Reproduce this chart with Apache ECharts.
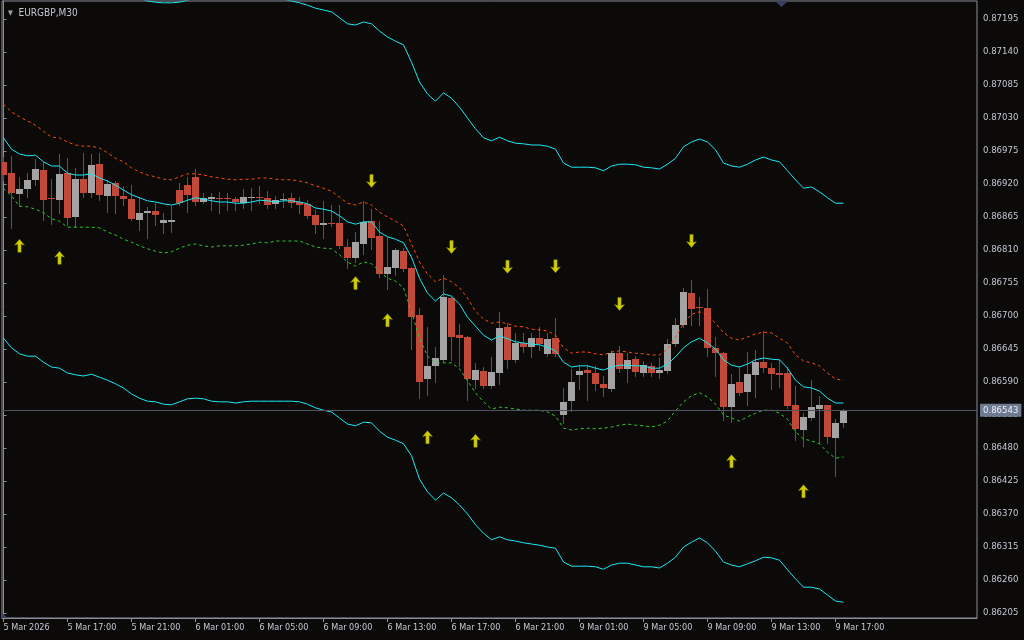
<!DOCTYPE html>
<html><head><meta charset="utf-8">
<script src="https://cdn.jsdelivr.net/npm/echarts@6/dist/echarts.min.js"></script>
<style>html,body{margin:0;padding:0;background:#0c0a08;}#c{width:1024px;height:640px;}</style>
</head><body><div id="c"></div>
<script>
const symbolName = 'EURGBP,M30';
const timeLabels = ['5 Mar 2026','5 Mar 17:00','5 Mar 21:00','6 Mar 01:00','6 Mar 05:00','6 Mar 09:00','6 Mar 13:00','6 Mar 17:00','6 Mar 21:00','9 Mar 01:00','9 Mar 05:00','9 Mar 09:00','9 Mar 13:00','9 Mar 17:00'];
const labelBars = [0,8,16,24,32,40,48,56,64,72,80,88,96,104];
const priceTicks = [0.87195,0.87140,0.87085,0.87030,0.86975,0.86920,0.86865,0.86810,0.86755,0.86700,0.86645,0.86590,0.86535,0.86480,0.86425,0.86370,0.86315,0.86260,0.86205];
const lastPrice = 0.86543;

const open = [0.86957,0.86938,0.86903,0.86912,0.86927,0.86943,0.86897,0.86893,0.86938,0.86865,
0.86928,0.86905,0.86953,0.86900,0.86922,0.86900,0.86895,0.86860,0.86872,0.86875,
0.86855,0.86857,0.86910,0.86918,0.86932,0.86890,0.86895,0.86897,0.86897,0.86895,
0.86888,0.86897,0.86898,0.86897,0.86887,0.86893,0.86897,0.86890,0.86887,0.86868,
0.86852,0.86855,0.86855,0.86815,0.86797,0.86820,0.86858,0.86833,0.86770,0.86780,
0.86808,0.86780,0.86702,0.86595,0.86617,0.86627,0.86730,0.86668,0.86665,0.86593,
0.86608,0.86583,0.86605,0.86682,0.86627,0.86655,0.86648,0.86663,0.86637,0.86663,
0.86535,0.86558,0.86602,0.86610,0.86605,0.86587,0.86578,0.86638,0.86612,0.86628,
0.86605,0.86617,0.86605,0.86608,0.86653,0.86685,0.86738,0.86715,0.86713,0.86647,
0.86638,0.86548,0.86590,0.86573,0.86602,0.86623,0.86613,0.86605,0.86605,0.86552,
0.86510,0.86530,0.86545,0.86552,0.86497,0.86522];
const close = [0.86935,0.86905,0.86912,0.86927,0.86945,0.86893,0.86895,0.86937,0.86863,0.86928,
0.86905,0.86952,0.86902,0.86920,0.86900,0.86895,0.86862,0.86872,0.86875,0.86868,
0.86860,0.86860,0.86888,0.86902,0.86890,0.86897,0.86898,0.86895,0.86895,0.86890,
0.86898,0.86898,0.86897,0.86885,0.86893,0.86895,0.86888,0.86885,0.86867,0.86852,
0.86855,0.86853,0.86817,0.86797,0.86823,0.86857,0.86830,0.86770,0.86782,0.86810,
0.86778,0.86698,0.86590,0.86617,0.86630,0.86732,0.86665,0.86663,0.86595,0.86610,
0.86583,0.86607,0.86680,0.86627,0.86655,0.86648,0.86663,0.86653,0.86662,0.86637,
0.86557,0.86590,0.86608,0.86605,0.86587,0.86580,0.86638,0.86612,0.86627,0.86607,
0.86618,0.86605,0.86610,0.86653,0.86685,0.86740,0.86712,0.86713,0.86647,0.86638,
0.86548,0.86587,0.86572,0.86603,0.86623,0.86613,0.86603,0.86602,0.86550,0.86512,
0.86532,0.86548,0.86552,0.86498,0.86522,0.86543];
const high = [0.86965,0.86967,0.86932,0.86938,0.86962,0.86957,0.86928,0.86970,0.86963,0.86947,
0.86972,0.86970,0.86972,0.86927,0.86925,0.86917,0.86918,0.86898,0.86882,0.86888,
0.86872,0.86883,0.86922,0.86932,0.86945,0.86905,0.86905,0.86907,0.86905,0.86898,
0.86912,0.86913,0.86917,0.86908,0.86900,0.86905,0.86905,0.86898,0.86893,0.86877,
0.86892,0.86885,0.86885,0.86828,0.86840,0.86892,0.86878,0.86858,0.86832,0.86813,
0.86813,0.86782,0.86713,0.86682,0.86648,0.86768,0.86732,0.86687,0.86667,0.86622,
0.86615,0.86632,0.86707,0.86688,0.86672,0.86672,0.86672,0.86682,0.86672,0.86697,
0.86580,0.86612,0.86618,0.86618,0.86617,0.86600,0.86642,0.86650,0.86638,0.86633,
0.86625,0.86622,0.86630,0.86662,0.86697,0.86747,0.86760,0.86732,0.86745,0.86665,
0.86640,0.86603,0.86617,0.86640,0.86643,0.86675,0.86622,0.86628,0.86615,0.86583,
0.86538,0.86593,0.86567,0.86552,0.86528,0.86545];
const low = [0.86927,0.86847,0.86883,0.86898,0.86918,0.86860,0.86853,0.86872,0.86852,0.86848,
0.86898,0.86898,0.86893,0.86873,0.86872,0.86885,0.86860,0.86843,0.86830,0.86852,
0.86838,0.86840,0.86885,0.86873,0.86885,0.86888,0.86877,0.86872,0.86877,0.86877,
0.86880,0.86877,0.86888,0.86880,0.86880,0.86882,0.86882,0.86872,0.86863,0.86838,
0.86830,0.86850,0.86813,0.86780,0.86790,0.86803,0.86812,0.86765,0.86745,0.86768,
0.86775,0.86645,0.86563,0.86568,0.86590,0.86625,0.86627,0.86617,0.86560,0.86580,
0.86580,0.86580,0.86587,0.86613,0.86623,0.86640,0.86632,0.86643,0.86633,0.86633,
0.86522,0.86542,0.86578,0.86560,0.86577,0.86567,0.86575,0.86607,0.86590,0.86600,
0.86600,0.86600,0.86597,0.86605,0.86650,0.86682,0.86685,0.86685,0.86633,0.86600,
0.86527,0.86523,0.86568,0.86552,0.86565,0.86607,0.86578,0.86582,0.86547,0.86493,
0.86483,0.86527,0.86488,0.86488,0.86433,0.86515];

const midLine = [0.86997,0.86978,0.86970,0.86967,0.86968,0.86957,0.86950,0.86950,0.86938,0.86935,
0.86935,0.86937,0.86930,0.86925,0.86918,0.86910,0.86902,0.86897,0.86892,0.86890,
0.86887,0.86885,0.86888,0.86893,0.86897,0.86895,0.86892,0.86890,0.86890,0.86888,
0.86888,0.86890,0.86893,0.86892,0.86890,0.86892,0.86892,0.86890,0.86887,0.86880,
0.86878,0.86875,0.86867,0.86857,0.86853,0.86857,0.86857,0.86840,0.86832,0.86828,
0.86822,0.86798,0.86763,0.86738,0.86725,0.86737,0.86733,0.86720,0.86698,0.86683,
0.86668,0.86660,0.86667,0.86662,0.86657,0.86655,0.86653,0.86652,0.86648,0.86642,
0.86623,0.86615,0.86617,0.86617,0.86613,0.86610,0.86615,0.86618,0.86618,0.86617,
0.86617,0.86613,0.86613,0.86620,0.86632,0.86647,0.86657,0.86663,0.86655,0.86645,
0.86627,0.86618,0.86615,0.86620,0.86627,0.86630,0.86628,0.86627,0.86613,0.86593,
0.86582,0.86580,0.86575,0.86563,0.86555,0.86555];
const upperDash = [0.87053,0.87040,0.87032,0.87025,0.87018,0.87008,0.86998,0.86997,0.86990,0.86985,
0.86983,0.86983,0.86980,0.86972,0.86963,0.86957,0.86947,0.86940,0.86935,0.86932,
0.86928,0.86927,0.86932,0.86937,0.86937,0.86935,0.86932,0.86930,0.86928,0.86927,
0.86928,0.86928,0.86930,0.86930,0.86928,0.86927,0.86927,0.86925,0.86922,0.86917,
0.86913,0.86908,0.86898,0.86888,0.86885,0.86890,0.86885,0.86873,0.86865,0.86858,
0.86850,0.86820,0.86790,0.86770,0.86757,0.86763,0.86757,0.86747,0.86730,0.86708,
0.86695,0.86688,0.86690,0.86687,0.86683,0.86682,0.86678,0.86677,0.86675,0.86668,
0.86647,0.86638,0.86640,0.86640,0.86637,0.86635,0.86640,0.86642,0.86640,0.86638,
0.86637,0.86635,0.86635,0.86645,0.86665,0.86687,0.86703,0.86707,0.86702,0.86688,
0.86672,0.86663,0.86660,0.86665,0.86670,0.86673,0.86672,0.86663,0.86655,0.86635,
0.86625,0.86622,0.86617,0.86605,0.86595,0.86593];
const lowerDash = [0.86913,0.86900,0.86883,0.86882,0.86878,0.86872,0.86862,0.86858,0.86848,0.86848,
0.86848,0.86848,0.86847,0.86840,0.86835,0.86828,0.86823,0.86817,0.86812,0.86808,
0.86805,0.86807,0.86813,0.86818,0.86820,0.86817,0.86815,0.86817,0.86817,0.86817,
0.86818,0.86820,0.86823,0.86822,0.86825,0.86825,0.86825,0.86825,0.86820,0.86815,
0.86813,0.86812,0.86802,0.86790,0.86783,0.86790,0.86787,0.86775,0.86763,0.86758,
0.86747,0.86707,0.86663,0.86633,0.86622,0.86622,0.86622,0.86612,0.86592,0.86572,
0.86557,0.86545,0.86548,0.86547,0.86545,0.86543,0.86543,0.86543,0.86540,0.86533,
0.86513,0.86510,0.86512,0.86513,0.86512,0.86513,0.86515,0.86518,0.86520,0.86518,
0.86517,0.86515,0.86518,0.86525,0.86542,0.86557,0.86567,0.86572,0.86565,0.86553,
0.86535,0.86530,0.86525,0.86532,0.86538,0.86543,0.86543,0.86538,0.86528,0.86507,
0.86495,0.86492,0.86487,0.86473,0.86463,0.86465];
const upperBand = [0.87330,0.87310,0.87303,0.87300,0.87303,0.87290,0.87285,0.87287,0.87272,0.87268,
0.87270,0.87270,0.87262,0.87257,0.87250,0.87240,0.87233,0.87230,0.87225,0.87223,
0.87222,0.87222,0.87223,0.87226,0.87232,0.87232,0.87232,0.87232,0.87232,0.87232,
0.87232,0.87232,0.87232,0.87232,0.87232,0.87228,0.87225,0.87222,0.87218,0.87213,
0.87210,0.87207,0.87197,0.87187,0.87185,0.87190,0.87187,0.87175,0.87165,0.87158,
0.87152,0.87123,0.87090,0.87070,0.87058,0.87072,0.87063,0.87048,0.87030,0.87012,
0.86997,0.86992,0.86998,0.86992,0.86988,0.86987,0.86985,0.86985,0.86983,0.86978,
0.86955,0.86948,0.86948,0.86948,0.86947,0.86942,0.86950,0.86953,0.86953,0.86952,
0.86948,0.86947,0.86945,0.86953,0.86963,0.86982,0.86990,0.86995,0.86990,0.86977,
0.86955,0.86950,0.86948,0.86953,0.86960,0.86965,0.86960,0.86957,0.86942,0.86927,
0.86913,0.86915,0.86907,0.86897,0.86888,0.86888];
const lowerBand = [0.86663,0.86647,0.86637,0.86633,0.86633,0.86623,0.86615,0.86613,0.86605,0.86602,
0.86600,0.86603,0.86598,0.86593,0.86587,0.86580,0.86570,0.86563,0.86558,0.86557,
0.86553,0.86552,0.86557,0.86562,0.86563,0.86562,0.86558,0.86557,0.86557,0.86555,
0.86557,0.86558,0.86558,0.86558,0.86558,0.86558,0.86558,0.86557,0.86553,0.86547,
0.86543,0.86540,0.86530,0.86520,0.86517,0.86523,0.86522,0.86508,0.86498,0.86493,
0.86487,0.86467,0.86428,0.86407,0.86393,0.86405,0.86397,0.86385,0.86370,0.86352,
0.86338,0.86327,0.86332,0.86327,0.86325,0.86322,0.86320,0.86318,0.86315,0.86313,
0.86290,0.86283,0.86283,0.86283,0.86282,0.86278,0.86285,0.86288,0.86288,0.86285,
0.86282,0.86282,0.86280,0.86288,0.86298,0.86315,0.86323,0.86330,0.86322,0.86308,
0.86290,0.86285,0.86282,0.86287,0.86292,0.86298,0.86297,0.86293,0.86277,0.86262,
0.86248,0.86248,0.86245,0.86235,0.86225,0.86223];

const upArrowBars = [2,7,44,48,53,59,91,100];
const upArrowPrices = [0.86817,0.86797,0.86755,0.86693,0.86498,0.86492,0.86458,0.86408];
const downArrowBars = [46,56,63,69,77,86];
const downArrowPrices = [0.86925,0.86815,0.86782,0.86783,0.86720,0.86825];

const BG = '#0c0a08', AXIS = '#8a8e9c', TXT = '#c2c8d4';
const BULL = '#a3a3a3', BEAR = '#c2483a', WICK = '#55555b';
const CYAN = '#1ee6f4', RED = '#ff4a10', GREEN = '#30c830', YELLOW = '#ffff00';
const FONT = "'DejaVu Sans Condensed','DejaVu Sans',sans-serif";

const idx = open.map((_, i) => i);
const candleData = idx.map(i => [i, open[i], close[i], low[i], high[i]]);
const pairs = arr => arr.map((v, i) => [i, v]);

function renderCandle(params, api) {
  const k = api.value(0), o = api.value(1), c = api.value(2), lo = api.value(3), hi = api.value(4);
  const pO = api.coord([k, o]), pC = api.coord([k, c]);
  const pH = api.coord([k, hi]), pL = api.coord([k, lo]);
  const band = api.size([1, 0])[0];
  const bw = Math.round(band) - 1;
  const cx = Math.floor(pO[0]) + 0.5;
  const top = Math.round(Math.min(pO[1], pC[1]));
  const bot = Math.round(Math.max(pO[1], pC[1]));
  const h = Math.max(bot - top, 1);
  const bull = c > o;
  return { type: 'group', children: [
    { type: 'line', shape: { x1: cx, y1: Math.round(pH[1]), x2: cx, y2: Math.round(pL[1]) + 1 }, style: { stroke: WICK, lineWidth: 1 } },
    { type: 'rect', shape: { x: cx - 3.5, y: top, width: bw, height: h }, style: { fill: bull ? BULL : BEAR } }
  ]};
}

const upPath = 'path://M4.5,0 L9,5 L6,4.2 L6,11 L3,11 L3,4.2 L0,5 Z';
const downPath = 'path://M4.5,11 L9,6 L6,6.8 L6,0 L3,0 L3,6.8 L0,6 Z';

const lineBase = { type: 'line', showSymbol: false, symbol: 'none', smooth: false, animation: false, silent: true, z: 3 };

const chart = echarts.init(document.getElementById('c'), null, { renderer: 'canvas' });
chart.setOption({
  backgroundColor: BG,
  animation: false,
  title: {
    text: '{t|▼}  ' + symbolName, left: 3, top: 3,
    textStyle: { color: TXT, fontSize: 10, fontWeight: 'normal', fontFamily: FONT,
      rich: { t: { fontSize: 7, color: '#9aa3b4', fontFamily: FONT } } }
  },
  grid: { left: 2, right: 47, top: 1, bottom: 22, show: true, borderColor: AXIS, borderWidth: 1, backgroundColor: 'transparent' },
  xAxis: {
    type: 'value', min: -0.1875, max: 121.6875, position: 'bottom',
    axisLine: { show: true, lineStyle: { color: AXIS } },
    axisTick: { show: true, length: 4, customValues: labelBars, lineStyle: { color: AXIS } },
    axisLabel: { show: true, customValues: labelBars, formatter: v => timeLabels[Math.round(v / 8)] || '',
      color: TXT, fontSize: 9, fontFamily: FONT, align: 'left', margin: 5 },
    splitLine: { show: false }
  },
  yAxis: {
    type: 'value', position: 'right', min: 0.8619667, max: 0.87225, scale: true,
    axisLine: { show: true, lineStyle: { color: AXIS } },
    axisTick: { show: true, length: 3, customValues: priceTicks, lineStyle: { color: AXIS } },
    axisLabel: { show: true, customValues: priceTicks, formatter: v => v.toFixed(5),
      color: TXT, fontSize: 9.5, fontFamily: FONT, margin: 6 },
    splitLine: { show: false }
  },
  series: [
    Object.assign({}, lineBase, { name: 'upperBand', data: pairs(upperBand), lineStyle: { color: CYAN, width: 1 } }),
    Object.assign({}, lineBase, { name: 'lowerBand', data: pairs(lowerBand), lineStyle: { color: CYAN, width: 1 } }),
    Object.assign({}, lineBase, { name: 'upperDash', data: pairs(upperDash), lineStyle: { color: RED, width: 1, type: [3, 3] } }),
    Object.assign({}, lineBase, { name: 'lowerDash', data: pairs(lowerDash), lineStyle: { color: GREEN, width: 1, type: [3, 3] } }),
    {
      type: 'custom', name: 'candles', renderItem: renderCandle, data: candleData, clip: true, z: 2,
      encode: { x: 0, y: [1, 2, 3, 4] }, animation: false, silent: true
    },
    Object.assign({}, lineBase, { name: 'mid', data: pairs(midLine), z: 4, lineStyle: { color: CYAN, width: 1 },
      markLine: { silent: true, symbol: ['none', 'none'], animation: false, precision: 5, data: [{ yAxis: lastPrice }],
        lineStyle: { color: '#505566', type: 'solid', width: 1 },
        label: { show: true, position: 'end', distance: 3, formatter: () => lastPrice.toFixed(5),
          backgroundColor: '#6d7a92', color: '#eef1f6', padding: [2, 3, 1, 3], fontSize: 9.5, fontFamily: FONT } } }),
    { type: 'scatter', name: 'up', data: upArrowBars.map((b, i) => [b, upArrowPrices[i]]), symbol: upPath, symbolSize: [10, 13],
      itemStyle: { color: YELLOW, borderColor: '#8a8a10', borderWidth: 0.5 }, z: 6, silent: true, animation: false },
    { type: 'scatter', name: 'down', data: downArrowBars.map((b, i) => [b, downArrowPrices[i]]), symbol: downPath, symbolSize: [10, 13],
      itemStyle: { color: YELLOW, borderColor: '#8a8a10', borderWidth: 0.5 }, z: 6, silent: true, animation: false }
  ],
  graphic: [
    { type: 'polygon', shape: { points: [[775, 1], [788, 1], [781.5, 7]] }, style: { fill: '#3a4060' }, z: 10, silent: true },
    { type: 'polygon', shape: { points: [[2, 613], [2, 618], [8, 618]] }, style: { fill: '#3a4060' }, z: 10, silent: true }
  ]
});
</script>
</body></html>
